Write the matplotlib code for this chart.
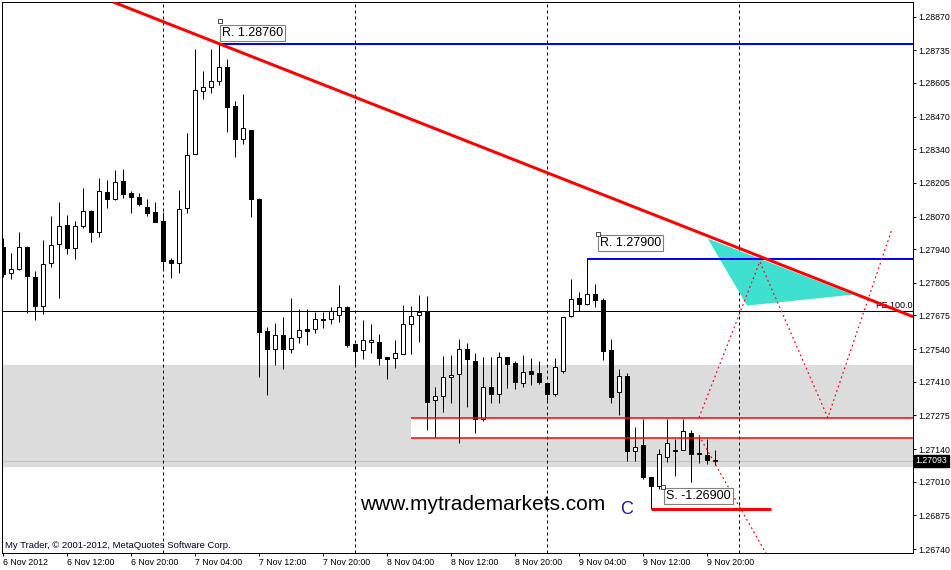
import matplotlib
matplotlib.use('Agg')
import matplotlib.pyplot as plt
import matplotlib.transforms as mtransforms
from matplotlib.patches import Rectangle, Polygon
import numpy as np

# hourly EURUSD-style candles, first bar 6 Nov 04:00, last bar 9 Nov 21:00
opens = [1.27950, 1.27846, 1.27862, 1.27950, 1.27830, 1.27714, 1.27886, 1.27962, 1.28038, 1.27946,
         1.28034, 1.28094, 1.28010, 1.28170, 1.28142, 1.28214, 1.28166, 1.28150, 1.28110, 1.28090,
         1.28054, 1.27898, 1.27886, 1.28106, 1.28322, 1.28574, 1.28590, 1.28614, 1.28670, 1.28514,
         1.28382, 1.28418, 1.28142, 1.27614, 1.27542, 1.27598, 1.27542, 1.27590, 1.27622, 1.27622,
         1.27662, 1.27662, 1.27678, 1.27710, 1.27562, 1.27538, 1.27570, 1.27570, 1.27510, 1.27506,
         1.27522, 1.27642, 1.27678, 1.27690, 1.27338, 1.27354, 1.27430, 1.27442, 1.27542, 1.27494,
         1.27262, 1.27390, 1.27362, 1.27510, 1.27486, 1.27406, 1.27454, 1.27446, 1.27406, 1.27362,
         1.27454, 1.27674, 1.27746, 1.27722, 1.27762, 1.27738, 1.27538, 1.27370, 1.27434, 1.27134,
         1.27158, 1.27030, 1.26994, 1.27110, 1.27134, 1.27138, 1.27206, 1.27122, 1.27118, 1.27098]
highs = [1.27986, 1.27926, 1.28010, 1.27954, 1.27854, 1.27978, 1.28074, 1.28130, 1.28078, 1.28054,
         1.28186, 1.28098, 1.28226, 1.28218, 1.28258, 1.28262, 1.28174, 1.28166, 1.28142, 1.28130,
         1.28090, 1.27906, 1.28178, 1.28406, 1.28742, 1.28654, 1.28742, 1.28760, 1.28702, 1.28534,
         1.28562, 1.28418, 1.28146, 1.27630, 1.27646, 1.27670, 1.27746, 1.27702, 1.27702, 1.27690,
         1.27690, 1.27710, 1.27798, 1.27714, 1.27562, 1.27658, 1.27642, 1.27602, 1.27510, 1.27578,
         1.27718, 1.27714, 1.27758, 1.27754, 1.27390, 1.27514, 1.27518, 1.27582, 1.27566, 1.27526,
         1.27510, 1.27510, 1.27530, 1.27510, 1.27494, 1.27518, 1.27506, 1.27494, 1.27406, 1.27506,
         1.27670, 1.27822, 1.27770, 1.27900, 1.27802, 1.27746, 1.27582, 1.27462, 1.27446, 1.27230,
         1.27262, 1.27030, 1.27142, 1.27262, 1.27182, 1.27262, 1.27218, 1.27198, 1.27182, 1.27138]
lows = [1.27830, 1.27822, 1.27858, 1.27686, 1.27658, 1.27682, 1.27870, 1.27746, 1.27922, 1.27902,
        1.28026, 1.27970, 1.27990, 1.28106, 1.28138, 1.28146, 1.28086, 1.28114, 1.28074, 1.28050,
        1.27858, 1.27826, 1.27846, 1.28086, 1.28322, 1.28542, 1.28566, 1.28598, 1.28410, 1.28310,
        1.28362, 1.28070, 1.27430, 1.27358, 1.27478, 1.27462, 1.27526, 1.27566, 1.27558, 1.27606,
        1.27626, 1.27642, 1.27650, 1.27550, 1.27482, 1.27502, 1.27526, 1.27478, 1.27422, 1.27466,
        1.27522, 1.27522, 1.27570, 1.27218, 1.27190, 1.27290, 1.27326, 1.27166, 1.27310, 1.27206,
        1.27254, 1.27326, 1.27326, 1.27386, 1.27382, 1.27390, 1.27398, 1.27402, 1.27338, 1.27354,
        1.27446, 1.27670, 1.27694, 1.27718, 1.27710, 1.27498, 1.27326, 1.27278, 1.27094, 1.27094,
        1.27022, 1.26900, 1.26982, 1.27090, 1.27034, 1.27138, 1.27010, 1.27086, 1.27082, 1.27078]
closes = [1.27842, 1.27862, 1.27950, 1.27834, 1.27714, 1.27882, 1.27958, 1.28034, 1.27946, 1.28034,
          1.28094, 1.28010, 1.28174, 1.28142, 1.28210, 1.28162, 1.28150, 1.28122, 1.28086, 1.28050,
          1.27894, 1.27886, 1.28102, 1.28318, 1.28578, 1.28590, 1.28614, 1.28670, 1.28510, 1.28382,
          1.28426, 1.28142, 1.27610, 1.27542, 1.27598, 1.27542, 1.27586, 1.27618, 1.27614, 1.27662,
          1.27658, 1.27694, 1.27710, 1.27558, 1.27534, 1.27578, 1.27578, 1.27506, 1.27502, 1.27526,
          1.27642, 1.27674, 1.27690, 1.27330, 1.27354, 1.27430, 1.27438, 1.27542, 1.27502, 1.27262,
          1.27390, 1.27362, 1.27510, 1.27482, 1.27410, 1.27450, 1.27442, 1.27410, 1.27362, 1.27470,
          1.27670, 1.27742, 1.27722, 1.27762, 1.27738, 1.27534, 1.27350, 1.27434, 1.27134, 1.27150,
          1.27030, 1.26994, 1.27122, 1.27166, 1.27138, 1.27214, 1.27122, 1.27120, 1.27098, 1.27093]

# axis labels
x_labels = ["6 Nov 2012", "6 Nov 12:00", "6 Nov 20:00", "7 Nov 04:00", "7 Nov 12:00", "7 Nov 20:00",
            "8 Nov 04:00", "8 Nov 12:00", "8 Nov 20:00", "9 Nov 04:00", "9 Nov 12:00", "9 Nov 20:00"]
x_label_bars = [0, 8, 16, 24, 32, 40, 48, 56, 64, 72, 80, 88]
y_labels = ["1.28870", "1.28735", "1.28605", "1.28470", "1.28340", "1.28205", "1.28070", "1.27940",
            "1.27805", "1.27675", "1.27540", "1.27410", "1.27275", "1.27140", "1.27010", "1.26875", "1.26740"]
day_breaks = [20, 44, 68, 92]
last_price = 1.27093

# drawn objects
resist1, resist1_bar = 1.28760, 27
resist2, resist2_bar = 1.27900, 73
support, support_bars = 1.26900, [81, 96]
fe_level = 1.27694
gray_zone = [1.27070, 1.27478]
white_zone, white_zone_bar = [1.27185, 1.27265], 51
trend_x, trend_y = [13.75, 113.75], [1.28929, 1.27670]
tri_x, tri_y = [88.1, 93.0, 106.25], [1.27982, 1.27714, 1.27758]
zig_x, zig_y = [87, 94.6, 103.1, 111.1], [1.27266, 1.27890, 1.27266, 1.28018]
down_x, down_y = [87, 96], [1.27194, 1.26688]

px = 0.72  # one pixel in points
font = 'Liberation Sans'

fig = plt.figure(figsize=(9.51, 5.70), dpi=100)
ax = fig.add_axes([2 / 951, 17 / 570, 911 / 951, 551 / 570])
x_max = 113.75
ax.set_xlim(-0.125, x_max)
ax.set_ylim(1.267244, 1.289288)

# background zones
ax.axhspan(gray_zone[0], gray_zone[1], color='#dcdcdc', lw=0, zorder=0)
ax.add_patch(Rectangle((white_zone_bar, white_zone[0]), x_max - white_zone_bar + 1,
                       white_zone[1] - white_zone[0], facecolor='white', lw=0, zorder=1))
ax.axhline(last_price, color='#c0c0c0', lw=px, zorder=1)

# day separators
for d in day_breaks:
    ax.axvline(d, color='black', lw=px, linestyle=(0, (3, 3)), zorder=2)

# cyan triangle
ax.add_patch(Polygon(list(zip(tri_x, tri_y)), closed=True, facecolor='#40e0d0', lw=0, zorder=2))

# candles
o = np.array(opens); h = np.array(highs); l = np.array(lows); c = np.array(closes)
idx = np.arange(len(o))
ax.vlines(idx, l, h, color='black', lw=px, zorder=4)
up = c >= o
body_w = 0.5
for i in idx:
    lo_, hi_ = min(o[i], c[i]), max(o[i], c[i])
    ht = max(hi_ - lo_, 0.000025)
    ax.add_patch(Rectangle((i - body_w / 2, lo_), body_w, ht,
                           facecolor='white' if up[i] else 'black',
                           edgecolor='black', lw=px, zorder=5))

# horizontal levels
ax.axhline(fe_level, color='black', lw=px, zorder=3)
ax.hlines(white_zone, white_zone_bar, x_max + 1, color='red', lw=1.5 * px, zorder=6)
ax.hlines(resist1, resist1_bar, x_max + 1, color='#0000ff', lw=2 * px, zorder=6)
ax.hlines(resist2, resist2_bar, x_max + 1, color='#0000ff', lw=2 * px, zorder=6)
ax.hlines(support, support_bars[0], support_bars[1], color='red', lw=3 * px, zorder=6)

# projection lines
ax.plot(zig_x, zig_y, color='red', lw=1.2 * px, linestyle=(0, (1.5, 2.5)), zorder=6)
ax.plot(down_x, down_y, color='red', lw=1.2 * px, linestyle=(0, (1.5, 2.5)), zorder=6)

# "FE 100.0" label, behind the trend line
ax.text(x_max - 0.1, fe_level + 0.00004, "FE 100.0", fontsize=6.5, family=font,
        ha='right', va='bottom', zorder=6)

# trend line
ax.plot(trend_x, trend_y, color='red', lw=3 * px, zorder=7, solid_capstyle='butt')

# price labels in boxes
box = dict(boxstyle='square,pad=0.15', facecolor='white', edgecolor='#808080', lw=0.8)
for bx, by, txt in [(27.4, 1.28806, "R. 1.28760"), (74.6, 1.27964, "R. 1.27900"),
                    (82.9, 1.26952, "S. -1.26900")]:
    ax.text(bx, by, txt, fontsize=9, family=font, ha='left', va='center', bbox=box, zorder=8)
ax.plot([27.1, 74.4, 82.5], [1.28938 - 0.00004 * 21, 1.28938 - 0.00004 * 234, 1.28938 - 0.00004 * 487],
        marker='s', ms=2.5, mfc='white', mec='black', mew=0.5, ls='none', zorder=8)

# watermark texts
ax.text(44.6, 1.26938 - 0.00004 * 5, "www.mytrademarkets.com", fontsize=15, family=font,
        ha='left', va='center', zorder=8)
ax.text(77.2, 1.26938 - 0.00004 * 10, "C", fontsize=13, family=font, color='#1a1a90',
        ha='left', va='center', zorder=8)
fig.text(5 / 951, 1 - 545 / 570, "My Trader, \u00a9 2001-2012, MetaQuotes Software Corp.",
         fontsize=6.8, family=font, color='#000030', ha='left', va='center')

# axes styling
for s in ax.spines.values():
    s.set_linewidth(px)
ax.yaxis.tick_right()
ax.set_yticks([float(v) for v in y_labels])
ax.set_yticklabels(y_labels, fontsize=6.3, family=font)
ax.set_xticks(x_label_bars)
ax.set_xticklabels(x_labels, fontsize=6.3, family=font, ha='left')
ax.tick_params(axis='both', length=2.2, width=px, pad=1.5)

# current price tag
trans = mtransforms.blended_transform_factory(ax.transAxes, ax.transData)
ax.text(1.003, last_price, "%.5f" % last_price, transform=trans, fontsize=6.3, family=font,
        color='white', ha='left', va='center', clip_on=False, zorder=9,
        bbox=dict(boxstyle='square,pad=0.2', facecolor='black', edgecolor='black'))

fig.savefig('out.png', dpi=100)
